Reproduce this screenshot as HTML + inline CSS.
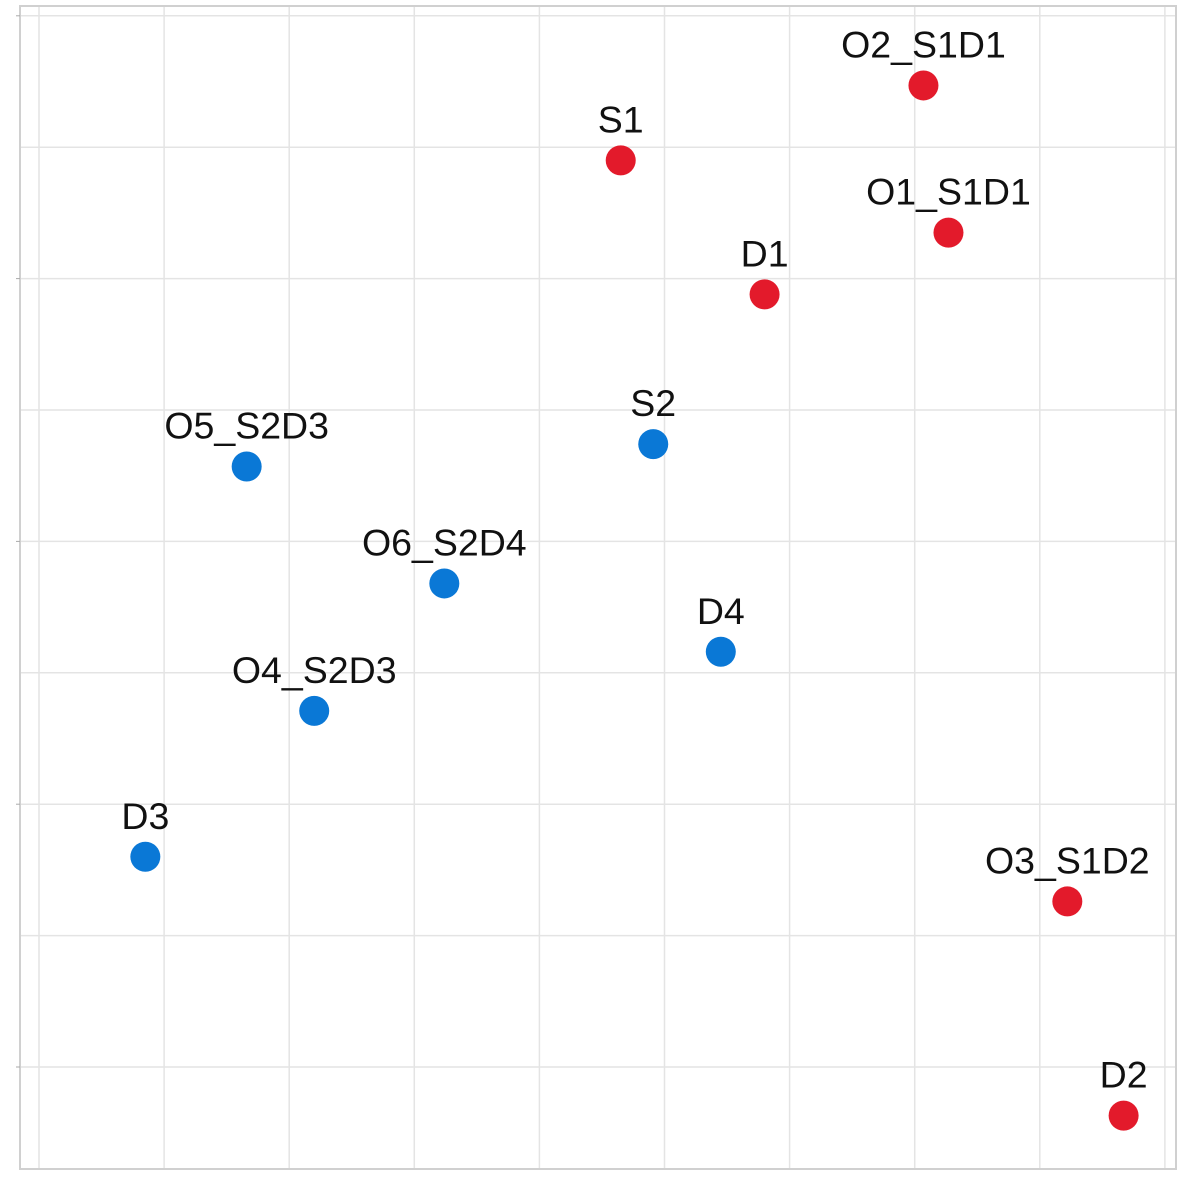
<!DOCTYPE html>
<html><head><meta charset="utf-8"><style>html,body{margin:0;padding:0;background:#fff}svg{display:block}</style></head>
<body>
<svg id="chart" width="1181" height="1181" xmlns="http://www.w3.org/2000/svg" font-family="Liberation Sans, Arial, sans-serif">
<rect x="20" y="6" width="1156" height="1163" fill="#fff" stroke="#d0d0d0" stroke-width="2"/>
<g id="grid"></g>
<g id="marks"></g>
</svg>
<script>
const labels = ["O2_S1D1","S1","O1_S1D1","D1","S2","O5_S2D3","O6_S2D4","D4","O4_S2D3","D3","O3_S1D2","D2"];
const xValues = [7.07,4.65,7.27,5.80,4.91,1.66,3.24,5.45,2.20,0.85,8.22,8.67];
const yValues = [7.47,6.90,6.35,5.88,4.74,4.57,3.68,3.16,2.71,1.60,1.26,-0.37];
const groups = ["red","red","red","red","blue","blue","blue","blue","blue","blue","red","red"];
const xTicks = [0,1,2,3,4,5,6,7,8,9];
const yTicks = [0,1,2,3,4,5,6,7,8];
const colors = {red:"#e31a2b", blue:"#0a78d6"};
const sx = v => 39 + v*125.1;
const sy = v => 1067 - v*131.4;
const NS = "http://www.w3.org/2000/svg";
const grid = document.getElementById('grid');
const marks = document.getElementById('marks');
xTicks.forEach(t => {
  const l = document.createElementNS(NS,'line');
  
  
  l.setAttribute('x1',sx(t));l.setAttribute('x2',sx(t));l.setAttribute('y1',7);l.setAttribute('y2',1168);
  l.setAttribute('stroke','#e4e4e4');l.setAttribute('stroke-width','1.5');
  grid.appendChild(l);
});
yTicks.forEach(t => {
  const l = document.createElementNS(NS,'line');
  
  
  l.setAttribute('x1',21);l.setAttribute('x2',1175);l.setAttribute('y1',sy(t));l.setAttribute('y2',sy(t));
  l.setAttribute('stroke','#e4e4e4');l.setAttribute('stroke-width','1.5');
  grid.appendChild(l);
  if (t%2===0) {
    const k = document.createElementNS(NS,'line');
    
    
    k.setAttribute('x1',16);k.setAttribute('x2',20);k.setAttribute('y1',sy(t));k.setAttribute('y2',sy(t));
    k.setAttribute('stroke','#aaa');
    grid.appendChild(k);
  }
});
labels.forEach((name,i) => {
  const c = document.createElementNS(NS,'circle');
  
  
  c.setAttribute('cx',sx(xValues[i]));c.setAttribute('cy',sy(yValues[i]));c.setAttribute('r',15);
  c.setAttribute('fill',colors[groups[i]]);
  marks.appendChild(c);
  const tx = document.createElementNS(NS,'text');
  
  
  tx.setAttribute('x',sx(xValues[i]));tx.setAttribute('y',sy(yValues[i])-28);
  tx.setAttribute('text-anchor','middle');tx.setAttribute('font-size','37.5');tx.setAttribute('fill','#111');
  tx.textContent = name;
  marks.appendChild(tx);
});
</script>
</body></html>
